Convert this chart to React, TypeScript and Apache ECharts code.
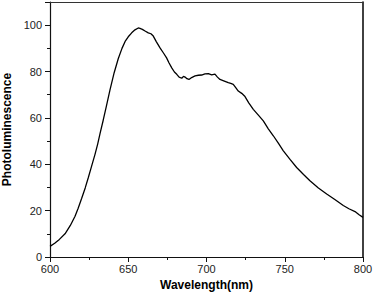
import React, { useEffect, useRef } from "react";
import * as echarts from "echarts";

const wavelengths = [
  600, 603, 606, 609.6, 613, 616, 618, 620.2, 622.5, 624.5, 626.5, 628.8, 630.5, 632, 634,
  636, 638.3, 641, 643.6, 646, 648, 650, 652.2, 654.3, 656.4, 657.5, 659, 661, 662.8, 664.5, 666,
  668, 670.3, 672.5, 674.5, 676, 677.8, 679.5, 681, 682.5, 684.2, 685.3, 686.3, 687.5, 688.8,
  690.5, 692.7, 694.8, 696.9, 699, 701.2, 703.3, 705.4, 707, 708.6, 711, 713.9, 715.5, 717.1,
  718.8, 720.3, 722.5, 724.6, 727, 729.9, 733, 736.3, 739.5, 742.7, 746, 749.1, 753.5, 757.6,
  762, 766.1, 771.5, 776.8, 782, 787.4, 791, 794.9, 797.5, 800,
];
const photoluminescence = [
  4.6, 5.9, 7.6, 10.0, 13.6, 17.6, 21.0, 25.2, 29.8, 34.3, 39.0, 44.4, 48.8, 53.3, 59.0,
  65.0, 72.0, 79.5, 85.5, 90.0, 93.0, 95.0, 96.7, 98.0, 98.8, 98.6, 98.2, 97.4, 96.7, 96.3, 95.3,
  92.8, 90.2, 88.0, 85.9, 83.8, 81.6, 79.8, 78.8, 77.6, 77.1, 77.9, 77.6, 76.9, 76.6,
  77.4, 78.1, 78.4, 78.5, 79.0, 79.1, 78.6, 78.9, 77.6, 76.6, 76.0, 75.2, 74.9, 74.5,
  73.0, 71.6, 70.6, 69.2, 66.5, 63.7, 61.3, 58.7, 55.3, 52.3, 49.0, 45.8, 42.0, 38.6,
  35.6, 32.9, 29.8, 27.2, 24.8, 22.2, 20.8, 19.6, 18.2, 17.1,
];
const xTickLabels = ["600", "650", "700", "750", "800"];
const yTickLabels = ["0", "20", "40", "60", "80", "100"];

export default function App() {
  const ref = useRef<HTMLDivElement>(null);
  useEffect(() => {
    if (!ref.current) return;
    const chart = echarts.init(ref.current, null, { renderer: "svg" });
    const axisColor = "#111";
    const font = "Liberation Sans, Arial, sans-serif";
    chart.setOption({
      animation: false,
      backgroundColor: "#fff",
      grid: {
        left: 50,
        right: 10,
        top: 2,
        bottom: 38,
        containLabel: false,
        outerBoundsMode: "none",
      },
      xAxis: [
        {
          type: "value",
          min: 600,
          max: 800,
          interval: 50,
          name: "Wavelength(nm)",
          nameLocation: "middle",
          nameGap: 21,
          nameTextStyle: { fontFamily: font, fontWeight: "bold", fontSize: 12, color: "#000" },
          axisLine: { show: true, onZero: false, lineStyle: { color: axisColor, width: 1.2 } },
          axisTick: { show: true, inside: false, length: 5, lineStyle: { color: axisColor } },
          minorTick: { show: true, splitNumber: 2, length: 3, lineStyle: { color: axisColor } },
          axisLabel: {
            margin: 6,
            fontFamily: font,
            fontSize: 11,
            color: "#222",
            formatter: (v: number) => (xTickLabels.includes(String(v)) ? String(v) : ""),
          },
          splitLine: { show: false },
        },
        {
          type: "value",
          position: "top",
          min: 600,
          max: 800,
          axisLine: { show: true, onZero: false, lineStyle: { color: "#333", width: 1.2 } },
          axisTick: { show: false },
          axisLabel: { show: false },
          splitLine: { show: false },
        },
      ],
      yAxis: [
        {
          type: "value",
          min: 0,
          max: 110,
          interval: 20,
          name: "Photoluminescence",
          nameLocation: "middle",
          nameGap: 33,
          nameTextStyle: { fontFamily: font, fontWeight: "bold", fontSize: 12, color: "#000" },
          axisLine: { show: true, onZero: false, lineStyle: { color: axisColor, width: 1.2 } },
          axisTick: { show: true, inside: false, length: 5, lineStyle: { color: axisColor } },
          minorTick: { show: true, splitNumber: 2, length: 3, lineStyle: { color: axisColor } },
          axisLabel: {
            margin: 8,
            fontFamily: font,
            fontSize: 11,
            color: "#222",
            showMaxLabel: false,
            formatter: (v: number) => (yTickLabels.includes(String(v)) ? String(v) : ""),
          },
          splitLine: { show: false },
        },
        {
          type: "value",
          position: "right",
          min: 0,
          max: 110,
          axisLine: { show: true, onZero: false, lineStyle: { color: "#111", width: 1.6 } },
          axisTick: { show: false },
          axisLabel: { show: false },
          splitLine: { show: false },
        },
      ],
      series: [
        {
          type: "line",
          data: wavelengths.map((w, i) => [w, photoluminescence[i]]),
          showSymbol: false,
          symbol: "none",
          lineStyle: { color: "#000", width: 1.3 },
          xAxisIndex: 0,
          yAxisIndex: 0,
        },
      ],
    });
    return () => chart.dispose();
  }, []);
  return (
    <div
      ref={ref}
      style={{ position: "fixed", left: 0, top: 0, width: 373, height: 295, background: "#fff" }}
    />
  );
}
